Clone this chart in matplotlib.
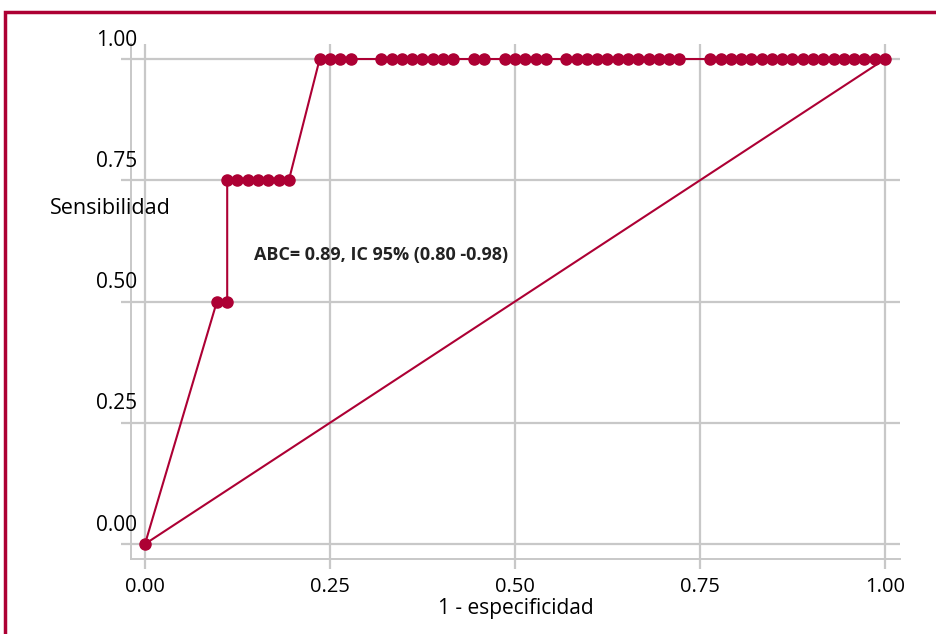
import matplotlib.pyplot as plt
from matplotlib.patches import Rectangle
from matplotlib.transforms import blended_transform_factory

plt.rcParams['font.family'] = ['Open Sans', 'DejaVu Sans']

# ROC points (1 - especificidad, sensibilidad)
fpr = [0.0, 0.0972, 0.1111,
       0.1111, 0.1250, 0.1389, 0.1528, 0.1667, 0.1806, 0.1944,
       0.2361, 0.2500, 0.2639, 0.2778,
       0.3194, 0.3333, 0.3472, 0.3611, 0.3750, 0.3889, 0.4028, 0.4167,
       0.4444, 0.4583,
       0.4861, 0.5000, 0.5139, 0.5278, 0.5417,
       0.5694, 0.5833, 0.5972, 0.6111, 0.6250, 0.6389, 0.6528, 0.6667,
       0.6806, 0.6944, 0.7083, 0.7222,
       0.7639, 0.7778, 0.7917, 0.8056, 0.8194, 0.8333, 0.8472, 0.8611,
       0.8750, 0.8889, 0.9028, 0.9167, 0.9306, 0.9444, 0.9583, 0.9722,
       0.9861, 1.0000]
sens = [0.0, 0.5, 0.5] + [0.75] * 7 + [1.0] * 49

ref_line = [0.0, 1.0]
ticks = [0.0, 0.25, 0.5, 0.75, 1.0]
tick_labels = ["0.00", "0.25", "0.50", "0.75", "1.00"]
auc_text = "ABC= 0.89, IC 95% (0.80 -0.98)"

red = "#ad0034"
grey = "#c8c8c8"

fig = plt.figure(figsize=(9.36, 6.34), dpi=100)
W, H = 936, 634
ax = fig.add_axes([131 / W, (H - 559) / H, (900 - 131) / W, (559 - 44) / H])

ax.set_xlim(-0.0189, 1.0203)
ax.set_ylim(-0.0309, 1.031)

ax.grid(True, color=grey, linewidth=1.6)
ax.set_axisbelow(True)

ax.plot(ref_line, ref_line, color=red, linewidth=1.5)
ax.plot(fpr, sens, color=red, linewidth=1.5, marker="o", markersize=8)

for s in ["top", "right"]:
    ax.spines[s].set_visible(False)
for s in ["left", "bottom"]:
    ax.spines[s].set_color(grey)
    ax.spines[s].set_linewidth(1.4)

ax.set_xticks(ticks)
ax.set_xticklabels(tick_labels, fontsize=14.5)
ax.set_yticks(ticks)
ax.set_yticklabels([])
ax.tick_params(axis="both", length=7, width=1.6, color=grey)
ax.tick_params(axis="x", pad=6)

# y labels sit above their gridlines
tr = blended_transform_factory(ax.transAxes, ax.transData)
for t, lbl in zip(ticks, tick_labels):
    ax.annotate(lbl, xy=(0, t), xycoords=tr, xytext=(6, 19),
                textcoords="offset pixels", ha="right", va="center",
                fontsize=15)

ax.set_xlabel("1 - especificidad", fontsize=15, labelpad=1)
fig.text(50 / W, 1 - 209 / H, "Sensibilidad", fontsize=15.5,
         ha="left", va="center")

ax.text(254 / W, 1 - 255 / H, auc_text, transform=fig.transFigure,
        fontsize=13, fontweight="bold", ha="left", va="center",
        color="#222222")

fig.patches.append(Rectangle((5 / W, -0.1), 1.2, 1.1 - 11.5 / H,
                             fill=False, edgecolor=red, linewidth=2.5,
                             transform=fig.transFigure, figure=fig))

fig.savefig("out.png", dpi=100)
